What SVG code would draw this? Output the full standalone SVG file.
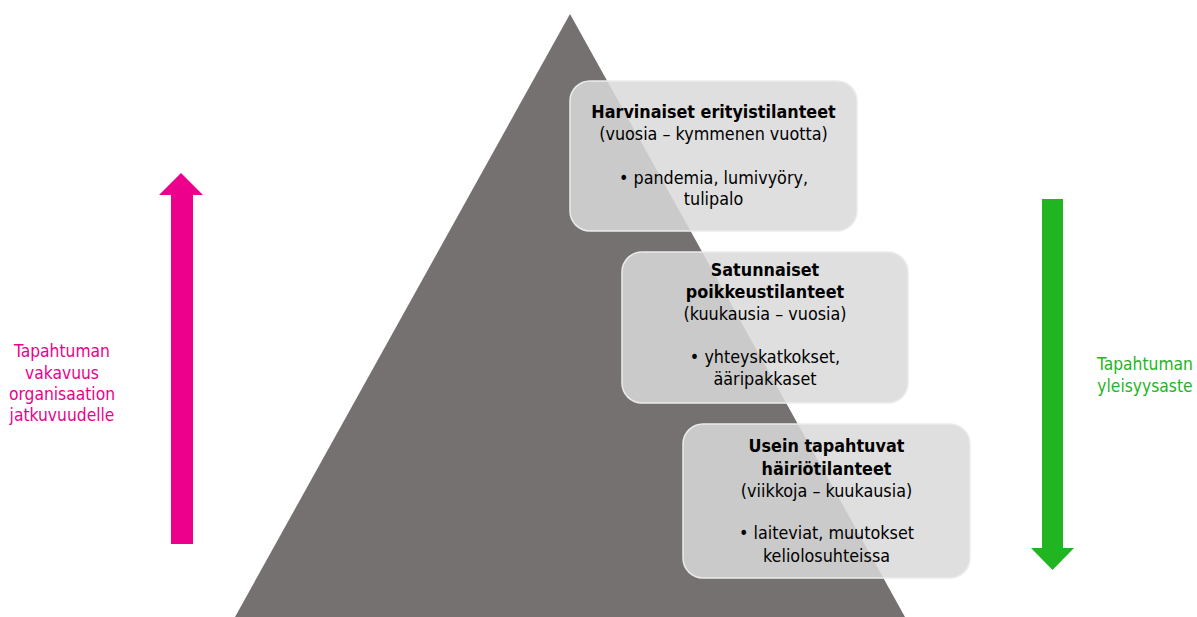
<svg xmlns="http://www.w3.org/2000/svg" width="1197" height="617" viewBox="0 0 1197 617">
<style>
  text { font-family: "DejaVu Sans", "Liberation Sans", sans-serif; font-stretch: condensed; font-size: 17.8px; text-anchor: middle; fill: #000; }
  .b { font-weight: bold; }
  .side { font-size: 17.3px; }
  .box { fill: #d9d9d9; fill-opacity: 0.85; stroke: #ebebeb; stroke-width: 1.5; }
  .pink { fill: #ec008c; }
  .green { fill: #22b522; }
</style>
<rect width="1197" height="617" fill="#fff"/>
<g id="pyramid">
  <polygon points="570,14 905,617 235,617" fill="#767171"/>
</g>
<g id="connectors">
  <polygon class="pink" points="171,544 171,195 159,195 181,173 203,195 193,195 193,544"/>
  <polygon class="green" points="1042,199 1063,199 1063,548 1074,548 1052.5,570 1031,548 1042,548"/>
</g>
<g id="severity-label">
  <text class="side pink" x="62" y="357">Tapahtuman</text>
  <text class="side pink" x="62" y="379">vakavuus</text>
  <text class="side pink" x="62" y="400">organisaation</text>
  <text class="side pink" x="62" y="421">jatkuvuudelle</text>
</g>
<g id="frequency-label">
  <text class="side green" x="1145" y="370">Tapahtuman</text>
  <text class="side green" x="1145" y="392">yleisyysaste</text>
</g>
<g id="box-rare">
  <rect class="box" x="570" y="81" width="287" height="150" rx="20"/>
  <text class="b" x="713.5" y="118">Harvinaiset erityistilanteet</text>
  <text x="713.5" y="140">(vuosia – kymmenen vuotta)</text>
  <text x="713.5" y="184">• pandemia, lumivyöry,</text>
  <text x="713.5" y="205">tulipalo</text>
</g>
<g id="box-occasional">
  <rect class="box" x="622" y="252" width="286" height="151" rx="20"/>
  <text class="b" x="765" y="276">Satunnaiset</text>
  <text class="b" x="765" y="298">poikkeustilanteet</text>
  <text x="765" y="320">(kuukausia – vuosia)</text>
  <text x="765" y="363">• yhteyskatkokset,</text>
  <text x="765" y="385">ääripakkaset</text>
</g>
<g id="box-frequent">
  <rect class="box" x="683" y="424" width="287" height="154" rx="20"/>
  <text class="b" x="826.5" y="452">Usein tapahtuvat</text>
  <text class="b" x="826.5" y="475">häiriötilanteet</text>
  <text x="826.5" y="497">(viikkoja – kuukausia)</text>
  <text x="826.5" y="539">• laiteviat, muutokset</text>
  <text x="826.5" y="562">keliolosuhteissa</text>
</g>
</svg>
